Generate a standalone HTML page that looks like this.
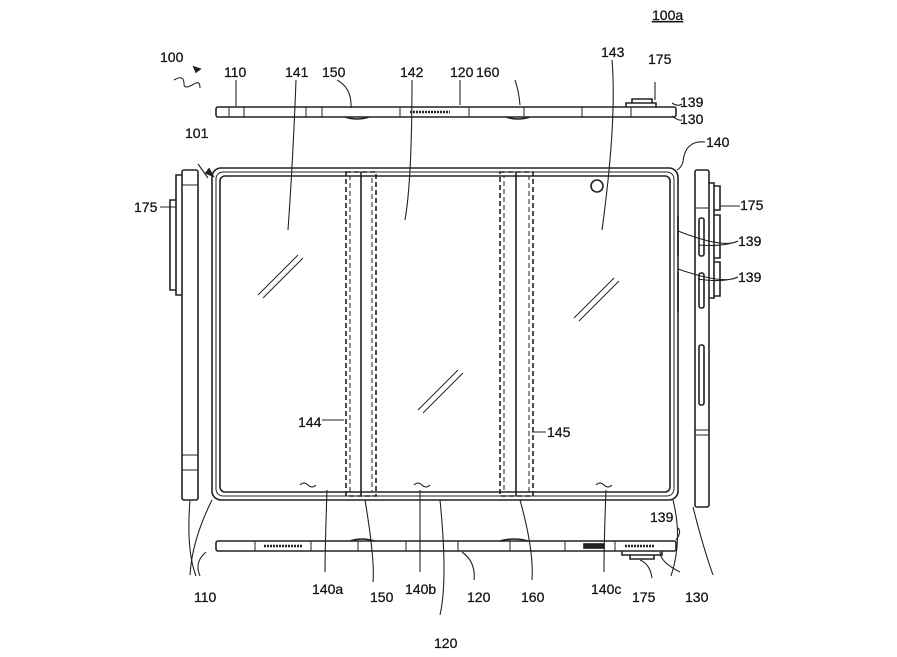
<!DOCTYPE html>
<html><head><style>
html,body{margin:0;padding:0;background:#fff;}
svg{display:block;}
text{font-family:"Liberation Sans",sans-serif;font-size:14px;fill:#111;stroke:#111;stroke-width:0.25;}
</style></head><body>
<svg width="897" height="657" viewBox="0 0 897 657" xmlns="http://www.w3.org/2000/svg">
<g fill="none" stroke="#222" stroke-width="1.6">
<rect x="212" y="168" width="466" height="332" rx="9"/>
<rect x="216" y="172" width="458" height="324" rx="7" stroke-width="1"/>
<rect x="220" y="176" width="450" height="316" rx="5"/>
<rect x="346" y="172" width="30" height="324" stroke-dasharray="5,3"/>
<line x1="361" y1="172" x2="361" y2="496"/>
<rect x="350" y="176" width="22" height="316" stroke-dasharray="5,3" stroke-width="1"/>
<rect x="500" y="172" width="33" height="324" stroke-dasharray="5,3"/>
<line x1="516" y1="172" x2="516" y2="496"/>
<rect x="504" y="176" width="25" height="316" stroke-dasharray="5,3" stroke-width="1"/>
<circle cx="597" cy="186" r="6"/>
<path d="M258 295 L298 255 M263 298 L303 258 M418 410 L458 370 M423 413 L463 373 M574 318 L614 278 M579 321 L619 281" stroke-width="1"/>
<rect x="216" y="107" width="460" height="10" rx="2"/>
<path d="M229 107v10M244 107v10M306 107v10M322 107v10M400 107v10M469 107v10M524 107v10M582 107v10M631 107v10" stroke-width="1"/>
<path d="M410 112 h40" stroke-dasharray="2,1" stroke-width="2.5"/>
<path d="M345 117 q12 4 24 0 M506 117 q12 4 24 0"/>
<path d="M626 107 v-4 h30 v4 M632 103 v-4 h20 v4"/>
<rect x="216" y="541" width="460" height="10" rx="2"/>
<path d="M255 541v10M311 541v10M358 541v10M406 541v10M458 541v10M510 541v10M565 541v10M615 541v10" stroke-width="1"/>
<path d="M264 546 h38 M625 546 h30" stroke-dasharray="2,1" stroke-width="2.5"/>
<rect x="584" y="544" width="20" height="4" fill="#222"/>
<path d="M350 541 q12 -4 24 0 M500 541 q14 -4 28 0"/>
<path d="M622 551 v4 h40 v-4 M630 555 v4 h24 v-4"/>
<rect x="182" y="170" width="16" height="330" rx="2"/>
<path d="M182 185h16M182 455h16M182 470h16" stroke-width="1"/>
<path d="M182 175 h-6 v120 h6 M176 200 h-6 v90 h6 M176 230v6M176 262v6"/>
<rect x="695" y="170" width="14" height="337" rx="2"/>
<path d="M695 208h14M695 430h14M695 435h14" stroke-width="1"/>
<path d="M709 183 h5 v115 h-5 M714 186 h6 v24 h-6 M714 215 h6 v43 h-6 M714 262 h6 v34 h-6"/>
<rect x="699" y="218" width="5" height="38" rx="2"/>
<rect x="699" y="273" width="5" height="35" rx="2"/>
<rect x="699" y="345" width="5" height="60" rx="2"/>
<path d="M678 216 v40 M678 272 v40"/>
<g stroke-width="1.1">
<path d="M236 80 v26 M296 80 q-3 80 -8 150 M337 80 q15 8 14 28 M412 80 q0 100 -7 140 M460 80 v25 M515 80 q4 12 5 25 M612 60 q5 60 -10 170 M655 82 v18 M672 103 q6 4 10 1 M672 116 q6 5 10 4"/>
<path d="M705 142 q-20 -2 -22 20 q-2 6 -6 8 M740 206 q-12 0 -20 0 M738 241 q-14 8 -60 -10 M738 241 q-14 6 -40 4 M738 277 q-14 8 -60 -8 M738 277 q-14 6 -40 2 M160 207 h16"/>
<path d="M322 420 h22 M546 432 h-14"/>
<path d="M212 500 q-20 40 -22 75 M190 500 q-4 50 6 76 M206 552 q-12 10 -6 24"/>
<path d="M327 490 q-2 60 -2 82 M365 500 q10 60 8 82 M420 490 q0 60 0 82 M440 500 q8 80 0 115 M462 552 q14 10 12 28 M520 500 q14 50 12 80 M606 490 q-2 50 -2 82 M640 560 q10 4 12 18"/>
<path d="M673 500 q10 40 -2 76 M660 552 q0 10 20 20 M693 507 q10 40 20 68 M676 540 q6 -8 2 -12"/>
<path d="M208 178 l-10 -14 M174 80 q10 -6 10 4 q0 6 10 0 q6 -4 6 4"/>
</g>
<path d="M213 176 l-7 -3 l3 -4 z M200 69 l-6 -2 l2 5z" fill="#222"/>
<path d="M300 485 q4 -4 8 0 q4 4 8 0 M414 485 q4 -4 8 0 q4 4 8 0 M596 485 q4 -4 8 0 q4 4 8 0" stroke-width="1"/>
</g>
<text x="160" y="62">100</text>
<text x="652" y="20" text-decoration="underline">100a</text>
<text x="224" y="77">110</text>
<text x="285" y="77">141</text>
<text x="322" y="77">150</text>
<text x="400" y="77">142</text>
<text x="450" y="77">120</text>
<text x="476" y="77">160</text>
<text x="601" y="57">143</text>
<text x="648" y="64">175</text>
<text x="680" y="107">139</text>
<text x="680" y="124">130</text>
<text x="185" y="138">101</text>
<text x="706" y="147">140</text>
<text x="134" y="212">175</text>
<text x="740" y="210">175</text>
<text x="738" y="246">139</text>
<text x="738" y="282">139</text>
<text x="298" y="427">144</text>
<text x="547" y="437">145</text>
<text x="194" y="602">110</text>
<text x="312" y="594">140a</text>
<text x="370" y="602">150</text>
<text x="405" y="594">140b</text>
<text x="467" y="602">120</text>
<text x="521" y="602">160</text>
<text x="591" y="594">140c</text>
<text x="632" y="602">175</text>
<text x="685" y="602">130</text>
<text x="650" y="522">139</text>
<text x="434" y="648">120</text>
</svg>
</body></html>
